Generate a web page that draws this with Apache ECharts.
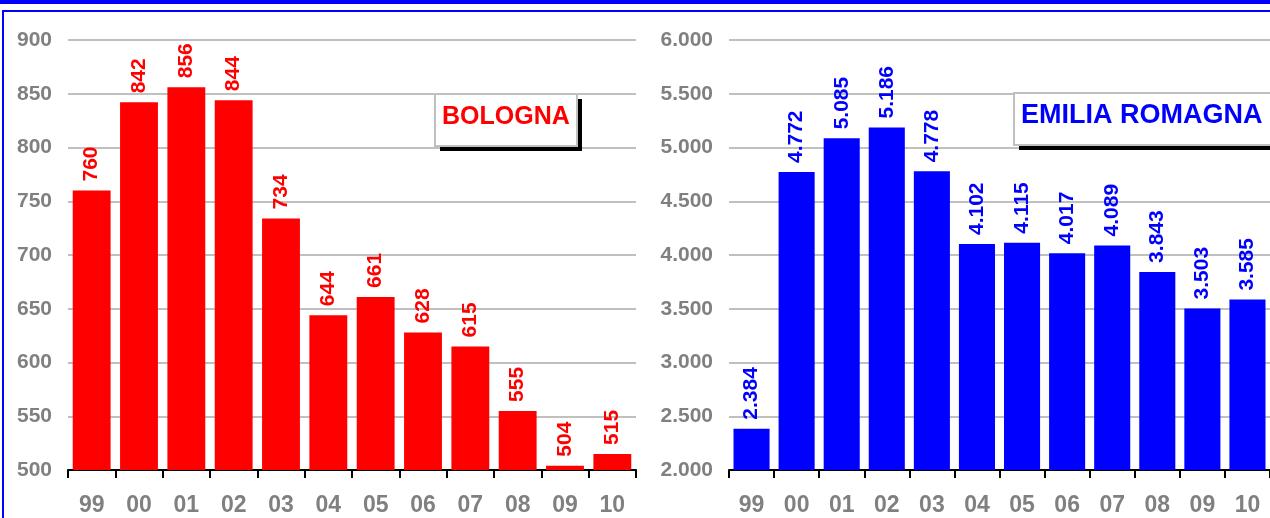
<!DOCTYPE html>
<html>
<head>
<meta charset="utf-8">
<script src="https://cdn.jsdelivr.net/npm/echarts@6/dist/echarts.min.js"></script>
<style>
  html, body { margin: 0; padding: 0; background: #fff; }
  #chart { width: 1270px; height: 518px; }
</style>
</head>
<body>
<div id="chart"></div>
<script>
// Years shown on both panels
const years = ['99', '00', '01', '02', '03', '04', '05', '06', '07', '08', '09', '10'];
// Yearly totals, Bologna
const bolognaValues = [760, 842, 856, 844, 734, 644, 661, 628, 615, 555, 504, 515];
// Yearly totals, Emilia Romagna
const emiliaValues = [2384, 4772, 5085, 5186, 4778, 4102, 4115, 4017, 4089, 3843, 3503, 3585];
// Panel names
const panelNames = ['BOLOGNA', 'EMILIA ROMAGNA'];

const FONT = '"Liberation Sans", Arial, sans-serif';
const GREY = '#808080';
const RED = '#ff0000';
const BLUE = '#0000ff';

// Italian thousands separator
function fmt(v) {
  return String(Math.round(v)).replace(/\B(?=(\d{3})+(?!\d))/g, '.');
}

function xAxis(gridIndex) {
  return {
    type: 'category', gridIndex, data: years, boundaryGap: true,
    axisLine: { show: true, lineStyle: { color: '#000', width: 2 } },
    axisTick: { show: true, length: 8, lineStyle: { color: '#000', width: 2 } },
    axisLabel: { color: GREY, fontFamily: FONT, fontWeight: 'bold', fontSize: 23, margin: 24 },
    splitLine: { show: false }
  };
}

function yAxis(gridIndex, min, max, interval) {
  return {
    type: 'value', gridIndex, min, max, interval,
    axisLine: { show: false }, axisTick: { show: false },
    axisLabel: { color: GREY, fontFamily: FONT, fontWeight: 'bold', fontSize: 21, margin: 16, formatter: fmt },
    splitLine: { show: true, lineStyle: { color: '#c0c0c0', width: 2 } }
  };
}

function barSeries(idx, data, color) {
  return {
    type: 'bar', xAxisIndex: idx, yAxisIndex: idx, data,
    barWidth: '80%',
    itemStyle: { color },
    label: {
      show: true, position: 'top', rotate: 90, distance: 9,
      align: 'left', verticalAlign: 'middle',
      color, fontFamily: FONT, fontWeight: 'bold', fontSize: 21,
      formatter: p => fmt(p.value)
    }
  };
}

function titleBox(x, y, w, h, text, color, fontSize) {
  return {
    type: 'group',
    children: [
      { type: 'rect', shape: { x: x + 5, y: y + 5, width: w, height: h }, style: { fill: '#000' }, z: 100 },
      { type: 'rect', shape: { x, y, width: w, height: h }, style: { fill: '#fff', stroke: '#c0c0c0', lineWidth: 2 }, z: 101 },
      { type: 'text', x: x + 7, y: y + h / 2 - 3, style: { text, fill: color, font: 'bold ' + fontSize + 'px ' + FONT, verticalAlign: 'middle', align: 'left' }, z: 102 }
    ]
  };
}

const chart = echarts.init(document.getElementById('chart'), null, { renderer: 'canvas' });
chart.setOption({
  animation: false,
  backgroundColor: '#fff',
  grid: [
    { left: 68, top: 40, width: 568, height: 430 },
    { left: 729, top: 40, width: 545, height: 430 }
  ],
  xAxis: [xAxis(0), xAxis(1)],
  yAxis: [yAxis(0, 500, 900, 50), yAxis(1, 2000, 6000, 500)],
  series: [barSeries(0, bolognaValues, RED), barSeries(1, emiliaValues, BLUE)],
  graphic: [
    // page frame
    { type: 'rect', shape: { x: 0, y: 0, width: 1270, height: 4 }, style: { fill: BLUE } },
    { type: 'rect', shape: { x: 2, y: 10, width: 1268, height: 2 }, style: { fill: BLUE } },
    { type: 'rect', shape: { x: 2, y: 10, width: 2, height: 508 }, style: { fill: BLUE } },
    titleBox(435, 94, 142, 52, panelNames[0], RED, 25),
    titleBox(1014, 93, 270, 52, panelNames[1], BLUE, 27)
  ]
});
</script>
</body>
</html>
